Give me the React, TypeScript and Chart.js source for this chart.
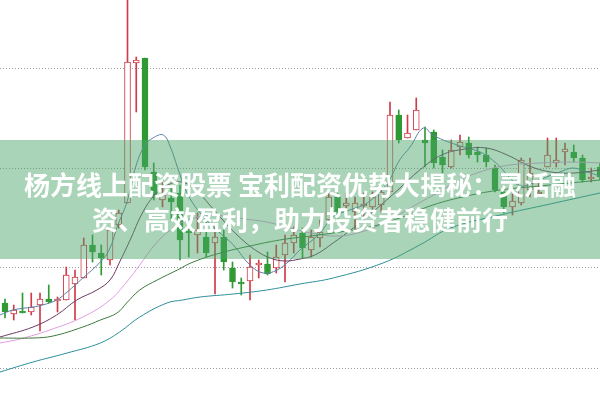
import { useEffect, useRef } from "react";
import { Chart, registerables } from "chart.js";
Chart.register(...registerables);

// candle data (index 0..68)
const opens = [11.65, 11.54, 11.57, 11.56, 11.63, 11.69, 11.67, 11.68, 11.84, 11.90, 12.23, 12.15, 12.08, 12.43, 12.65, 14.05, 14.10, 12.96, 12.68, 12.70, 12.75, 12.37, 12.33, 12.31, 12.25, 12.31, 12.00, 11.86, 11.87, 12.03, 12.04, 12.00, 12.13, 12.25, 12.35, 12.18, 12.30, 12.48, 12.71, 12.62, 12.56, 12.62, 12.61, 12.63, 12.76, 13.53, 13.30, 13.38, 13.28, 13.36, 13.11, 13.01, 13.21, 13.25, 13.16, 13.13, 13.00, 12.76, 12.61, 12.65, 12.78, 12.74, 13.01, 13.05, 13.16, 13.16, 13.10, 12.89, 13.01];
const closes = [11.56, 11.58, 11.55, 11.61, 11.69, 11.66, 11.69, 11.93, 11.91, 12.23, 12.16, 12.10, 12.38, 12.55, 14.06, 14.08, 13.01, 12.73, 12.73, 12.66, 12.28, 12.35, 12.38, 12.15, 12.31, 12.06, 11.86, 11.84, 12.01, 12.05, 11.94, 12.11, 12.25, 12.33, 12.20, 12.31, 12.36, 12.71, 12.56, 12.65, 12.65, 12.64, 12.71, 12.76, 13.53, 13.28, 13.35, 13.58, 13.25, 13.05, 13.03, 13.18, 13.26, 13.13, 13.13, 13.06, 12.78, 12.61, 12.67, 13.08, 12.95, 12.76, 13.13, 13.08, 13.19, 13.10, 12.88, 12.91, 12.91];
const highs = [11.69, 11.63, 11.75, 11.75, 11.75, 11.83, 11.71, 12.01, 11.98, 12.30, 12.33, 12.23, 12.40, 12.58, 14.73, 14.11, 14.10, 13.05, 12.88, 12.81, 12.83, 12.41, 12.55, 12.46, 12.41, 12.38, 12.06, 11.90, 12.13, 12.08, 12.16, 12.23, 12.33, 12.41, 12.40, 12.38, 12.48, 12.75, 12.75, 12.75, 12.71, 12.75, 12.76, 12.80, 13.66, 13.58, 13.53, 13.70, 13.41, 13.38, 13.18, 13.28, 13.33, 13.31, 13.21, 13.20, 13.03, 12.78, 12.74, 13.10, 13.10, 12.88, 13.30, 13.30, 13.25, 13.23, 13.13, 13.00, 13.05];
const lows = [11.50, 11.48, 11.55, 11.53, 11.37, 11.65, 11.56, 11.68, 11.48, 11.90, 12.06, 11.93, 12.03, 12.40, 12.65, 13.56, 12.98, 12.68, 12.61, 12.48, 12.08, 12.11, 12.15, 12.11, 11.74, 11.98, 11.80, 11.73, 11.68, 11.90, 11.93, 11.95, 11.86, 12.15, 12.10, 12.11, 12.21, 12.45, 12.45, 12.56, 12.35, 12.48, 12.55, 12.56, 12.76, 13.25, 13.30, 13.38, 13.01, 13.00, 12.95, 13.00, 13.13, 13.10, 13.06, 13.01, 12.76, 12.55, 12.53, 12.63, 12.71, 12.72, 13.01, 13.01, 13.03, 13.06, 12.86, 12.86, 12.88];

// moving average lines (position on candle index axis, price)
const ma5X = [-0.57, 0.9, 3.2, 4.3, 5.9, 7.1, 8.9, 10.9, 11.9, 12.9, 13.9, 15.0, 16.0, 16.9, 18.1, 18.9, 19.7, 20.8, 22.3, 24.2, 26.1, 28.0, 29.5, 31.1, 32.6, 33.7, 35.8, 37.5, 39.4, 41.4, 43.7, 45.1, 46.3, 47.8, 48.9, 50.1, 51.7, 52.8, 54.3, 55.4, 56.6, 57.7, 58.9, 60.3, 61.9, 63.4, 64.9, 66.5, 68.0];
const ma5Y = [11.53, 11.58, 11.61, 11.63, 11.68, 11.76, 11.90, 12.06, 12.18, 12.43, 12.65, 13.03, 13.23, 13.30, 13.33, 13.21, 13.01, 12.75, 12.55, 12.38, 12.23, 12.03, 11.95, 11.98, 12.08, 12.18, 12.33, 12.51, 12.58, 12.65, 12.85, 13.08, 13.21, 13.40, 13.33, 13.28, 13.23, 13.20, 13.16, 13.10, 13.01, 12.90, 12.82, 12.85, 12.91, 12.96, 13.00, 12.96, 12.92];
const ma10X = [-0.57, 3.2, 5.9, 8.2, 10.5, 12.0, 13.1, 14.3, 15.7, 17.1, 18.6, 20.2, 21.8, 23.4, 25.1, 26.9, 28.6, 30.3, 32.0, 33.7, 35.4, 37.5, 39.8, 42.3, 44.9, 47.4, 49.9, 52.6, 55.0, 57.4, 59.9, 62.4, 65.0, 68.0];
const ma10Y = [11.31, 11.41, 11.53, 11.68, 11.78, 11.88, 12.06, 12.28, 12.55, 12.73, 12.83, 12.86, 12.78, 12.63, 12.46, 12.30, 12.18, 12.10, 12.07, 12.09, 12.13, 12.25, 12.40, 12.58, 12.78, 12.98, 13.13, 13.19, 13.20, 13.13, 13.02, 12.96, 12.95, 12.98];
const ma20X = [-0.57, 1.7, 5.1, 8.9, 12.0, 13.9, 15.4, 17.1, 18.9, 20.9, 22.9, 25.1, 27.4, 29.9, 32.6, 34.9, 38.3, 41.4, 44.0, 46.5, 49.4, 52.0, 55.0, 57.7, 61.1, 64.6, 68.0];
const ma20Y = [11.25, 11.29, 11.38, 11.51, 11.68, 11.86, 12.03, 12.23, 12.38, 12.48, 12.52, 12.52, 12.49, 12.46, 12.40, 12.35, 12.32, 12.38, 12.48, 12.61, 12.75, 12.88, 12.98, 13.03, 13.05, 13.06, 13.05];
const ma30X = [-0.57, 3.2, 5.5, 8.9, 10.9, 12.8, 13.9, 15.4, 17.4, 19.7, 21.5, 24.6, 28.0, 31.4, 34.9, 38.3, 41.7, 45.1, 48.9, 52.8, 56.6, 61.1, 64.6, 68.0];
const ma30Y = [11.30, 11.30, 11.32, 11.41, 11.48, 11.55, 11.65, 11.78, 11.88, 11.98, 12.06, 12.15, 12.22, 12.28, 12.32, 12.36, 12.41, 12.50, 12.63, 12.72, 12.78, 12.82, 12.85, 12.88];
const ma60X = [-0.57, 3.2, 7.1, 10.9, 13.1, 15.4, 18.5, 20.3, 22.3, 26.1, 29.9, 33.7, 37.5, 43.2, 47.4, 50.9, 56.6, 62.3, 68.0];
const ma60Y = [10.96, 11.06, 11.15, 11.25, 11.36, 11.51, 11.65, 11.68, 11.71, 11.74, 11.78, 11.84, 11.90, 12.05, 12.23, 12.40, 12.53, 12.64, 12.75];

const gridPrices = [11, 12, 13, 14];
const titleLine1 = "杨方线上配资股票 宝利配资优势大揭秘：灵活融";
const titleLine2 = "资、高效盈利，助力投资者稳健前行";

const RED = "#cf3b47";
const GREEN = "#2f9a33";

export default function App() {
  const ref = useRef<HTMLCanvasElement>(null);
  useEffect(() => {
    const prev = document.body.style.margin;
    document.body.style.margin = "0";
    const up = opens.map((o, i) => closes[i] >= o);
    const bodies = opens.map((o, i) => ({ x: i, y: [o, closes[i]] }));
    const wicks = lows.map((l, i) => ({ x: i, y: [l, highs[i]] }));
    const line = (xs: number[], ys: number[], color: string) => ({
      type: "line" as const,
      data: xs.map((x, i) => ({ x, y: ys[i] })),
      borderColor: color,
      borderWidth: 1,
      pointRadius: 0,
      tension: 0.4,
      fill: false,
      order: 0,
    });
    const chart = new Chart(ref.current!, {
      type: "bar",
      data: {
        datasets: [
          line(ma60X, ma60Y, "#2e8e9c"),
          line(ma30X, ma30Y, "#3d7a3d"),
          line(ma20X, ma20Y, "#df9ddf"),
          line(ma10X, ma10Y, "#6d3a63"),
          line(ma5X, ma5Y, "#5a82a6"),
          {
            type: "bar",
            data: bodies as any,
            backgroundColor: up.map((u) => (u ? "#ffffff" : GREEN)),
            borderColor: up.map((u) => (u ? RED : GREEN)),
            borderWidth: 1,
            borderSkipped: false,
            barThickness: 6,
            minBarLength: 1,
            grouped: false,
            order: 1,
          } as any,
          {
            type: "bar",
            data: wicks as any,
            backgroundColor: up.map((u) => (u ? RED : GREEN)),
            borderWidth: 0,
            barThickness: 1,
            grouped: false,
            order: 2,
          } as any,
        ],
      },
      options: {
        animation: false,
        responsive: false,
        devicePixelRatio: 1,
        layout: { padding: 0 },
        plugins: { legend: { display: false }, tooltip: { enabled: false } },
        scales: {
          x: { type: "linear", min: -0.5714, max: 68, offset: false, display: false },
          y: {
            min: 10.67,
            max: 14.68,
            ticks: { display: false },
            afterBuildTicks: (s: any) => {
              s.ticks = gridPrices.map((v) => ({ value: v }));
            },
            afterFit: (s: any) => {
              s.width = 0;
            },
            grid: { color: "#9a9a9a", lineWidth: 1, drawTicks: false },
            border: { display: false, dash: [1, 2] },
          },
        },
      },
    } as any);
    return () => {
      chart.destroy();
      document.body.style.margin = prev;
    };
  }, []);
  return (
    <div style={{ position: "relative", width: 600, height: 401, overflow: "hidden", background: "#fff" }}>
      <canvas ref={ref} width={600} height={401} style={{ display: "block" }} />
      <div style={{ position: "absolute", left: 0, top: 140, width: 600, height: 119, background: "rgba(76,165,105,0.48)" }} />
      <div
        style={{
          position: "absolute",
          left: 0,
          top: 166,
          width: 600,
          textAlign: "center",
          color: "#ffffff",
          fontWeight: 700,
          fontSize: 26,
          lineHeight: "35px",
          fontFamily: '"Noto Sans CJK SC", sans-serif',
          whiteSpace: "nowrap",
        }}
      >
        {titleLine1}
        <br />
        {titleLine2}
      </div>
    </div>
  );
}
